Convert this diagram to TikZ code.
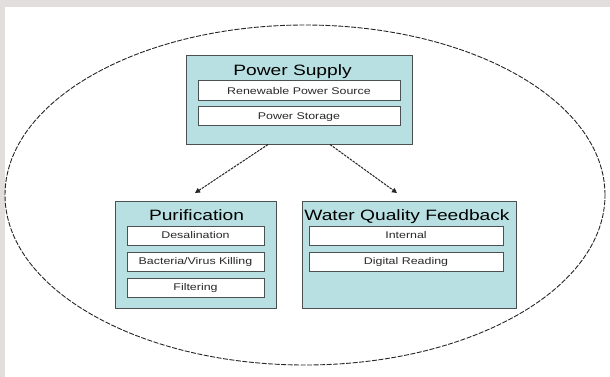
\documentclass[tikz,border=0pt]{standalone}
\usepackage{fontspec}
\setmainfont{Liberation Sans}[FakeStretch=1.28]
\usetikzlibrary{arrows.meta,calc}
\definecolor{bggray}{RGB}{226,222,220}
\definecolor{boxfill}{RGB}{184,224,226}
\definecolor{edgegray}{RGB}{75,80,82}
\definecolor{subtext}{RGB}{40,40,40}
\begin{document}
\begin{tikzpicture}[x=1pt,y=-1pt,
  outerbox/.style={draw=edgegray, fill=boxfill, line width=1pt, inner sep=0pt},
  innerbox/.style={draw=edgegray, fill=white, line width=1pt, inner sep=0pt,
    font=\fontsize{9.7}{11}\selectfont, text=subtext, text height=6.9pt, text depth=0pt},
  titletext/.style={font=\fontsize{15}{17}\selectfont, inner sep=0pt, anchor=base},
  link/.style={draw=black!85, line width=1pt, dash pattern=on 2.5pt off 1pt,
    -{Triangle[length=5pt,width=5pt]}}]
\fill[bggray] (0,0) rectangle (610,377);
\fill[white] (5,7) rectangle (610,377);
\useasboundingbox (0,0) rectangle (610,377);
% enclosing ellipse
\draw[black!85, line width=0.9pt, dash pattern=on 5pt off 1.5pt] (305,195) ellipse [x radius=300pt, y radius=170pt];
% Power Supply
\node[outerbox, minimum width=226pt, minimum height=88pt] (ps) at (299,100) {};
\node[titletext] (pst) at (292.5,76) {Power Supply};
\node[innerbox, minimum width=202pt, minimum height=20pt] (rps) at (299,91) {Renewable Power Source};
\node[innerbox, minimum width=202pt, minimum height=19pt] (pst2) at (299,116.5) {Power Storage};
% Purification
\node[outerbox, minimum width=161pt, minimum height=107pt] (pur) at (195.5,254.5) {};
\node[titletext] (purt) at (196.5,220) {Purification};
\node[innerbox, minimum width=137pt, minimum height=19pt] (des) at (195.5,235.5) {Desalination};
\node[innerbox, minimum width=137pt, minimum height=19pt] (bvk) at (195.5,261.5) {Bacteria/Virus Killing};
\node[innerbox, minimum width=137pt, minimum height=19pt] (fil) at (195.5,287.5) {Filtering};
% Water Quality Feedback
\node[outerbox, minimum width=214pt, minimum height=107pt] (wqf) at (409,254.5) {};
\node[titletext] (wqft) at (407,220) {Water Quality Feedback};
\node[innerbox, minimum width=194pt, minimum height=19pt] (int) at (406,235.5) {Internal};
\node[innerbox, minimum width=194pt, minimum height=19pt] (dig) at (406,261.5) {Digital Reading};
% arrows
\coordinate (e1) at (195,193);
\coordinate (e2) at (397,193);
\draw[link] ($(ps.south)+(-31pt,0)$) -- (e1);
\draw[link] ($(ps.south)+(31pt,0)$) -- (e2);
\end{tikzpicture}
\end{document}
